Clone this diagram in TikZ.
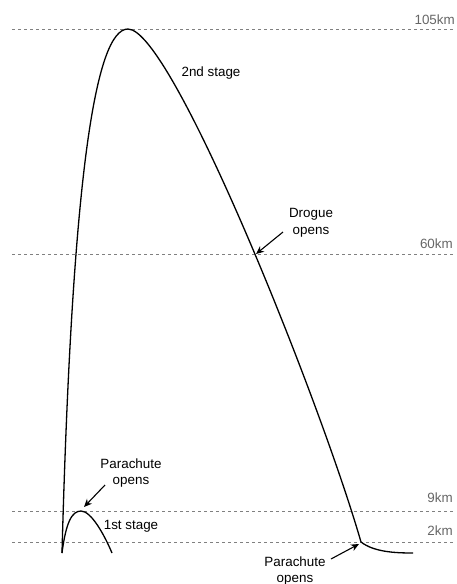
\documentclass[tikz,border=0pt]{standalone}
\usepackage{fontspec}
\setmainfont{Liberation Sans}
\usetikzlibrary{arrows.meta}
\begin{document}
\begin{tikzpicture}[x=1pt,y=-1pt,
  level/.style={draw=black!50, line width=0.9pt, dash pattern=on 3pt off 3pt},
  levellabel/.style={text=black!60, inner sep=0pt, anchor=east, font=\fontsize{13.4}{16}\selectfont},
  path/.style={draw=black, line width=1.3pt},
  lbl/.style={inner sep=0pt, align=center, font=\fontsize{13.4}{16.5}\selectfont},
  pointer/.style={draw=black, line width=1.1pt, -{Stealth[length=8pt,width=7pt]}}]
\useasboundingbox (0,0) rectangle (456,584);

% altitude levels
\draw[level] (12,29.5) -- (455,29.5);
\draw[level] (12,254) -- (455,254);
\draw[level] (12,511.5) -- (455,511.5);
\draw[level] (12,542) -- (455,542);
\node[levellabel] (l105) at (455,20) {105km};
\node[levellabel] (l60) at (453,244) {60km};
\node[levellabel] (l9) at (453,498) {9km};
\node[levellabel] (l2) at (453,531) {2km};

% key points of the trajectories
\coordinate (launch) at (62,553);
\coordinate (apogee) at (128,29);
\coordinate (drogue) at (256,254);
\coordinate (main) at (361,542);
\coordinate (land) at (413,553);
\coordinate (peak1) at (81,511);
\coordinate (fall1) at (112,553);

% second stage
\draw[path] (launch) .. controls (72,180) and (95,29) .. (apogee)
  .. controls (172,29) and (320,400) .. (main)
  .. controls (374,552) and (395,553) .. (land);

% first stage
\draw[path] (launch) .. controls (66,522) and (72,511) .. (peak1)
  .. controls (91,511) and (104,534) .. (fall1);

% labels
\node[lbl] (s2) at (211,73) {2nd stage};
\node[lbl] (s1) at (131,526) {1st stage};
\node[lbl] (dl) at (311,223) {Drogue\\opens};
\node[lbl] (p1) at (131,473) {Parachute\\opens};
\node[lbl] (p2) at (295,571) {Parachute\\opens};

% pointers
\draw[pointer] (283,232) -- (drogue);
\draw[pointer] (105,485) -- (84,507);
\draw[pointer] (331,559) -- (359,544);
\end{tikzpicture}
\end{document}
